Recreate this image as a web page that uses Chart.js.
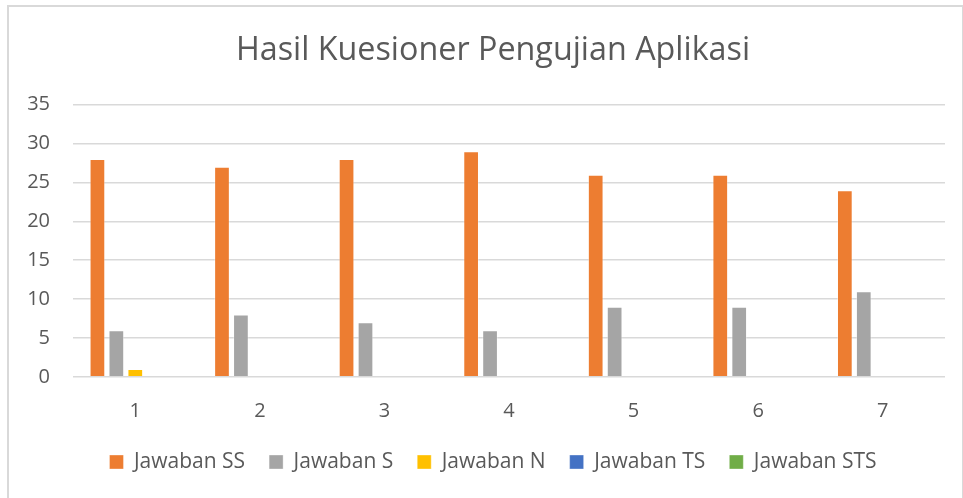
<!DOCTYPE html>
<html>
<head>
<meta charset="utf-8">
<script src="https://cdn.jsdelivr.net/npm/chart.js@4"></script>
<style>
  html, body { margin: 0; padding: 0; background: #fff; overflow: hidden; }
  #wrap { position: absolute; left: 0; top: 0; width: 1000px; height: 498px; }
  #frame { position: absolute; left: 7px; top: 5px; width: 953px; height: 600px; border: 2px solid #D9D9D9; }
</style>
</head>
<body>
<div id="frame"></div>
<div id="wrap"><canvas id="chart" width="1000" height="498"></canvas></div>
<script>
// --- Data ---
const categories = ['1', '2', '3', '4', '5', '6', '7'];
const jawabanSS  = [28, 27, 28, 29, 26, 26, 24];
const jawabanS   = [6, 8, 7, 6, 9, 9, 11];
const jawabanN   = [1, 0, 0, 0, 0, 0, 0];
const jawabanTS  = [0, 0, 0, 0, 0, 0, 0];
const jawabanSTS = [0, 0, 0, 0, 0, 0, 0];

const textColor = '#595959';
const font = 'Open Sans';

function series(label, data, color) {
    return {
        label, data,
        backgroundColor: color,
        borderColor: 'rgba(255,255,255,0.35)',
        borderWidth: 1,
        categoryPercentage: 0.76,
        barPercentage: 0.83
    };
}

new Chart(document.getElementById('chart').getContext('2d'), {
    type: 'bar',
    data: {
        labels: categories,
        datasets: [
            series('Jawaban SS', jawabanSS, '#ED7D31'),
            series('Jawaban S', jawabanS, '#A5A5A5'),
            series('Jawaban N', jawabanN, '#FFC000'),
            series('Jawaban TS', jawabanTS, '#4472C4'),
            series('Jawaban STS', jawabanSTS, '#70AD47')
        ]
    },
    options: {
        responsive: false,
        animation: false,
        layout: { padding: { left: 8, right: 22, top: 0, bottom: 15.5 } },
        scales: {
            x: {
                grid: { display: false, drawTicks: false },
                border: { display: false },
                ticks: { color: textColor, font: { family: font, size: 20 }, padding: 22 },
                afterFit: s => { s.height = 50.7; }
            },
            y: {
                min: 0, max: 35,
                ticks: { stepSize: 5, color: textColor, font: { family: font, size: 20 }, padding: 23 },
                grid: { color: '#D9D9D9', lineWidth: 1.5, drawTicks: false },
                border: { display: false },
                afterFit: s => { s.width = 65; }
            },
            // empty right-hand axis, only keeps title and legend centred like the original
            y2: {
                position: 'right',
                grid: { display: false, drawTicks: false },
                border: { display: false },
                ticks: { display: false },
                afterFit: s => { s.width = 33; }
            }
        },
        plugins: {
            title: {
                display: true,
                text: 'Hasil Kuesioner Pengujian Aplikasi',
                color: textColor,
                font: { family: font, size: 32.3, weight: 'normal' },
                padding: { top: 31.5, bottom: 34.4 }
            },
            legend: {
                position: 'bottom',
                labels: {
                    color: textColor,
                    font: { family: font, size: 21 },
                    boxWidth: 14, boxHeight: 14,
                    padding: 24
                }
            },
            tooltip: { enabled: false }
        }
    }
});
</script>
</body>
</html>
